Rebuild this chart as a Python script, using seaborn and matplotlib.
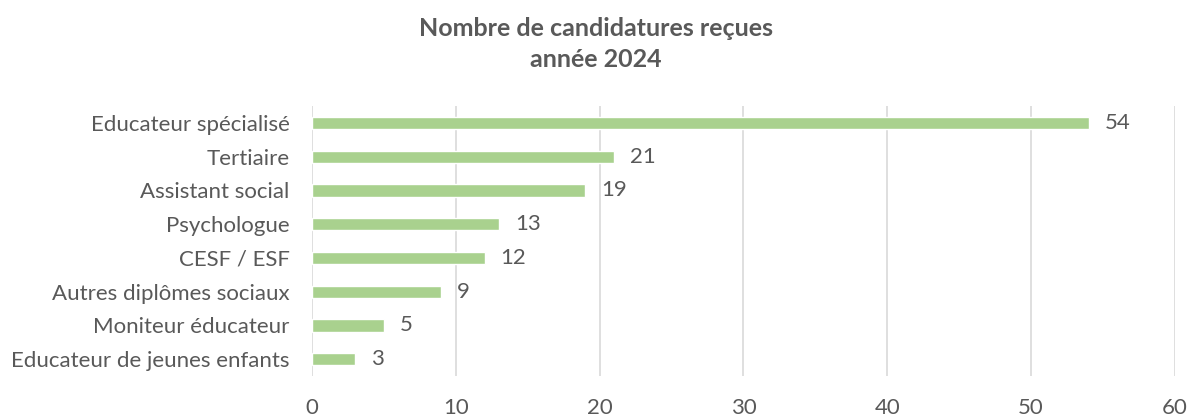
import matplotlib
matplotlib.use("Agg")
import matplotlib.pyplot as plt
import seaborn as sns
import pandas as pd

# data
categories = ["Educateur spécialisé", "Tertiaire", "Assistant social", "Psychologue",
              "CESF / ESF", "Autres diplômes sociaux", "Moniteur éducateur",
              "Educateur de jeunes enfants"]
counts = [54, 21, 19, 13, 12, 9, 5, 3]
x_ticks = [0, 10, 20, 30, 40, 50, 60]
title = "Nombre de candidatures reçues\nannée 2024"

df = pd.DataFrame({"Diplôme": categories, "Candidatures": counts})

sns.set_theme(style="white")
plt.rcParams['font.family'] = ['Lato', 'DejaVu Sans']

text_col = "#595959"
bar_col = "#A9D18E"

fig = plt.figure(figsize=(11.92, 4.16), dpi=100)
ax = fig.add_axes([0.2617, 0.096, 0.724, 0.649])

sns.barplot(data=df, x="Candidatures", y="Diplôme", color=bar_col, width=0.36,
            saturation=1, orient="h", ax=ax)

# value labels
for i, v in enumerate(counts):
    ax.text(v + 1.1, i, str(v), va="center", ha="left", fontsize=16, color=text_col)

ax.set_xlim(0, 60)
ax.set_xticks(x_ticks)
ax.xaxis.grid(True, color="#D9D9D9", linewidth=1.2)
ax.set_axisbelow(True)
for s in ax.spines.values():
    s.set_visible(False)
ax.tick_params(axis="x", length=0, pad=16, labelsize=16, labelcolor=text_col)
ax.tick_params(axis="y", length=0, pad=16, labelsize=16, labelcolor=text_col)
ax.set_xlabel("")
ax.set_ylabel("")

fig.suptitle(title, y=0.96, fontsize=18, fontweight="bold", color=text_col,
             linespacing=1.45)

fig.savefig("out.png", dpi=100)
